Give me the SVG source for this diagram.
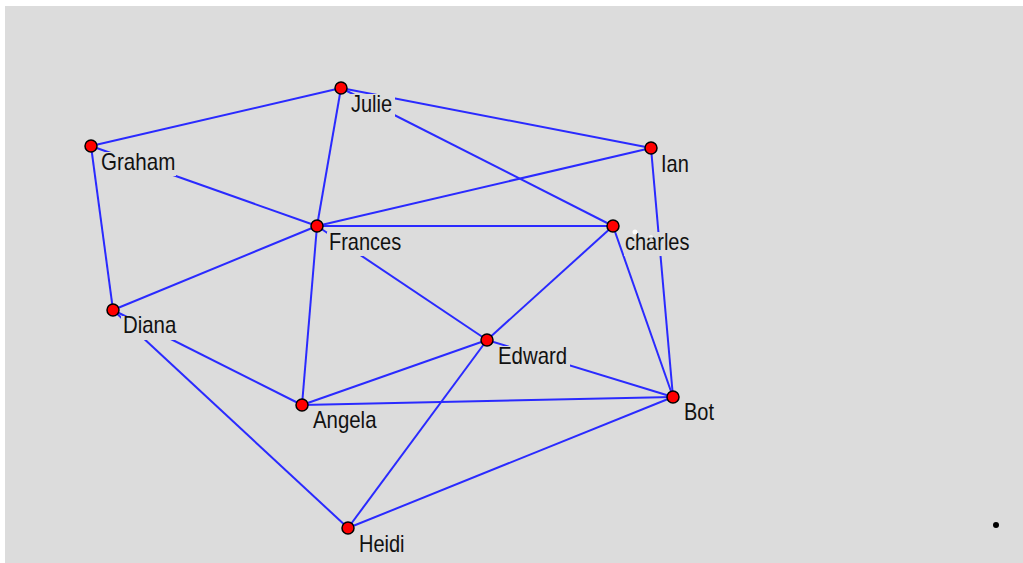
<svg xmlns="http://www.w3.org/2000/svg" width="1023" height="563" viewBox="0 0 1023 563">
  <style>
    .edge { stroke: #2a2aff; stroke-width: 2; fill: none; }
    .node circle.pt { fill: #ff0000; stroke: #000; stroke-width: 1.5; }
    .node circle.glint { fill: #ffffff; stroke: none; }
    .lbl rect { fill: #dcdcdc; }
    .lbl text { font-family: "Liberation Sans", Arial, sans-serif; font-size: 20px; fill: #111; }
  </style>
  <rect x="0" y="0" width="1023" height="563" fill="#ffffff"/>
  <rect x="5" y="6" width="1018" height="557" fill="#dcdcdc"/>

  <!-- connectors -->
  <g id="edges">
    <line class="edge" x1="91" y1="146" x2="341" y2="88"/>
    <line class="edge" x1="341" y1="88" x2="317" y2="226"/>
    <line class="edge" x1="341" y1="88" x2="651" y2="148"/>
    <line class="edge" x1="341" y1="88" x2="613" y2="226"/>
    <line class="edge" x1="91" y1="146" x2="113" y2="310"/>
    <line class="edge" x1="91" y1="146" x2="317" y2="226"/>
    <line class="edge" x1="651" y1="148" x2="317" y2="226"/>
    <line class="edge" x1="651" y1="148" x2="673" y2="397"/>
    <line class="edge" x1="317" y1="226" x2="613" y2="226"/>
    <line class="edge" x1="317" y1="226" x2="113" y2="310"/>
    <line class="edge" x1="317" y1="226" x2="302" y2="405"/>
    <line class="edge" x1="317" y1="226" x2="487" y2="340"/>
    <line class="edge" x1="613" y1="226" x2="487" y2="340"/>
    <line class="edge" x1="613" y1="226" x2="673" y2="397"/>
    <line class="edge" x1="113" y1="310" x2="302" y2="405"/>
    <line class="edge" x1="113" y1="310" x2="348" y2="528"/>
    <line class="edge" x1="302" y1="405" x2="487" y2="340"/>
    <line class="edge" x1="302" y1="405" x2="673" y2="397"/>
    <line class="edge" x1="487" y1="340" x2="673" y2="397"/>
    <line class="edge" x1="487" y1="340" x2="348" y2="528"/>
    <line class="edge" x1="348" y1="528" x2="673" y2="397"/>
  </g>

  <!-- nodes: label panel, name, marker -->
  <g id="node-julie" class="node lbl">
    <rect x="349" y="94" width="46" height="24"/>
    <text transform="translate(351,112) scale(1,1.18)">Julie</text>
    <circle class="pt" cx="341" cy="88" r="6"/>
  </g>
  <g id="node-graham" class="node lbl">
    <rect x="99" y="152" width="77" height="24"/>
    <text transform="translate(101,170) scale(1.03,1.18)">Graham</text>
    <circle class="pt" cx="91" cy="146" r="6"/>
  </g>
  <g id="node-ian" class="node lbl">
    <rect x="659" y="154" width="34" height="24"/>
    <text transform="translate(661,172) scale(1,1.18)">Ian</text>
    <circle class="pt" cx="651" cy="148" r="6"/>
  </g>
  <g id="node-frances" class="node lbl">
    <rect x="327" y="232" width="76" height="24"/>
    <text transform="translate(329,250) scale(1,1.18)">Frances</text>
    <circle class="pt" cx="317" cy="226" r="6"/>
  </g>
  <g id="node-charles" class="node lbl">
    <rect x="624" y="232" width="70" height="24"/>
    <text transform="translate(625,250) scale(1,1.18)">charles</text>
    <circle class="pt" cx="613" cy="226" r="6"/>
    <circle class="glint" cx="635" cy="232" r="2.5" opacity="0.9"/>
    <circle class="glint" cx="651" cy="237" r="2" opacity="0.7"/>
  </g>
  <g id="node-diana" class="node lbl">
    <rect x="121" y="316" width="58" height="24"/>
    <text transform="translate(123,333) scale(1.02,1.18)">Diana</text>
    <circle class="pt" cx="113" cy="310" r="6"/>
  </g>
  <g id="node-edward" class="node lbl">
    <rect x="496" y="346" width="74" height="24"/>
    <text transform="translate(498,364) scale(1.02,1.18)">Edward</text>
    <circle class="pt" cx="487" cy="340" r="6"/>
  </g>
  <g id="node-angela" class="node lbl">
    <rect x="311" y="411" width="68" height="24"/>
    <text transform="translate(313,428) scale(1.02,1.18)">Angela</text>
    <circle class="pt" cx="302" cy="405" r="6"/>
  </g>
  <g id="node-bot" class="node lbl">
    <rect x="682" y="403" width="36" height="24"/>
    <text transform="translate(684,420) scale(1,1.18)">Bot</text>
    <circle class="pt" cx="673" cy="397" r="6"/>
  </g>
  <g id="node-heidi" class="node lbl">
    <rect x="357" y="534" width="52" height="24"/>
    <text transform="translate(359,552) scale(1,1.18)">Heidi</text>
    <circle class="pt" cx="348" cy="528" r="6"/>
  </g>

  <circle cx="996" cy="525" r="3" fill="#000"/>
</svg>
